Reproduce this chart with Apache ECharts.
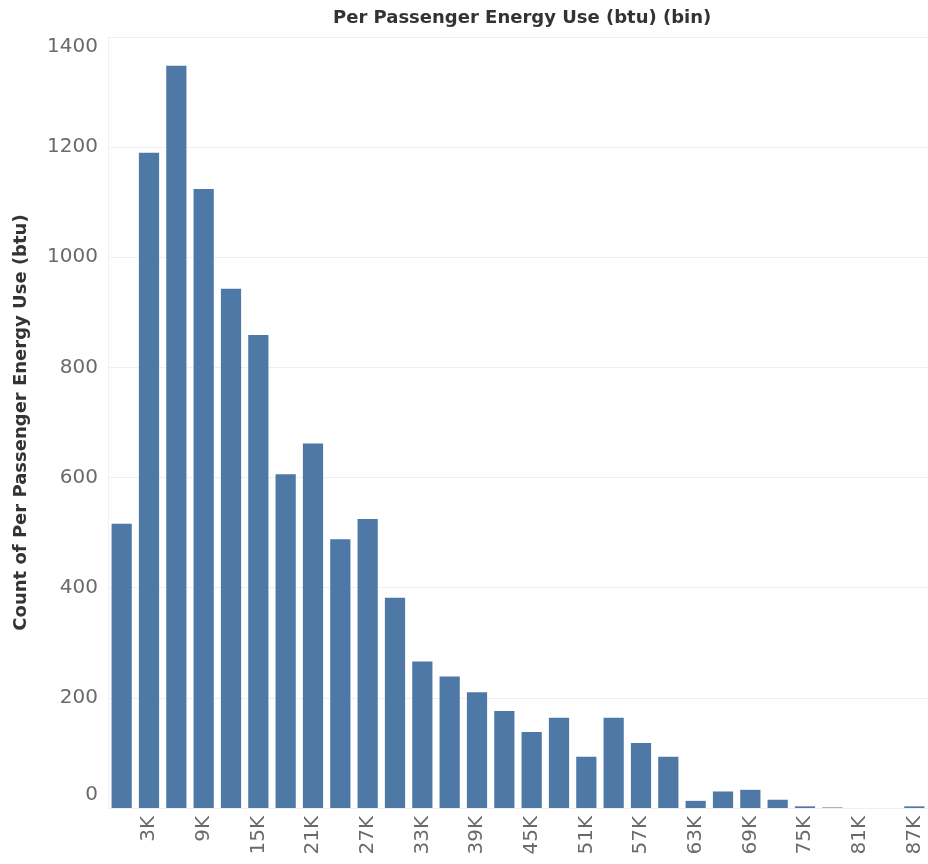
<!DOCTYPE html>
<html>
<head>
<meta charset="utf-8">
<script src="https://cdn.jsdelivr.net/npm/echarts@6/dist/echarts.min.js"></script>
<style>html,body{margin:0;padding:0;background:#fff;}#c{width:928px;height:864px;}</style>
</head>
<body>
<div id="c"></div>
<script>
const categories = ['0K','3K','6K','9K','12K','15K','18K','21K','24K','27K','30K','33K','36K','39K','42K','45K','48K','51K','54K','57K','60K','63K','66K','69K','72K','75K','78K','81K','84K','87K'];
const counts = [516,1190,1348,1124,943,859,606,662,488,525,382,266,239,210,176,138,164,93,164,118,93,13,30,33,15,3,1,0,0,3];
const yTicks = [0,200,400,600,800,1000,1200,1400];

const chart = echarts.init(document.getElementById('c'), null, {renderer:'canvas'});
chart.setOption({
  animation: false,
  backgroundColor: '#fff',
  title: {
    text: 'Per Passenger Energy Use (btu) (bin)',
    left: 328, top: 4,
    textStyle: {fontFamily: 'DejaVu Sans', fontWeight: 'bold', fontSize: 18, color: '#333'}
  },
  grid: {left: 108, top: 37, width: 825, height: 771},
  xAxis: {
    type: 'category',
    data: categories,
    axisTick: {show: false},
    axisLine: {show: true, lineStyle: {color: '#f0f0f0'}},
    axisLabel: {
      rotate: 90, margin: 8,
      interval: function (i) { return i % 2 === 1; },
      fontFamily: 'DejaVu Sans', fontSize: 20, color: '#6a6a6a'
    }
  },
  yAxis: {
    type: 'value',
    min: yTicks[0], max: yTicks[yTicks.length - 1], interval: 200,
    name: 'Count of Per Passenger Energy Use (btu)',
    nameLocation: 'middle', nameRotate: 90, nameGap: 78,
    nameTextStyle: {fontFamily: 'DejaVu Sans', fontWeight: 'bold', fontSize: 18, color: '#333'},
    axisLine: {show: true, lineStyle: {color: '#f0f0f0'}},
    axisTick: {show: false},
    splitLine: {lineStyle: {color: '#efefef', width: 1}},
    axisLabel: {
      margin: 10,
      fontFamily: 'DejaVu Sans', fontSize: 20, color: '#6a6a6a',
      formatter: function (v) {
        if (v === yTicks[yTicks.length - 1]) return '{mx|' + v + '}';
        if (v === yTicks[0]) return '{mn|' + v + '}';
        return String(v);
      },
      rich: {
        mx: {fontFamily: 'DejaVu Sans', fontSize: 20, color: '#6a6a6a', padding: [20, 0, 0, 0]},
        mn: {fontFamily: 'DejaVu Sans', fontSize: 20, color: '#6a6a6a', padding: [0, 0, 26, 0]}
      }
    }
  },
  series: [{
    type: 'bar',
    data: counts,
    barCategoryGap: '26%',
    itemStyle: {color: '#4e79a7'}
  }]
});
</script>
</body>
</html>
